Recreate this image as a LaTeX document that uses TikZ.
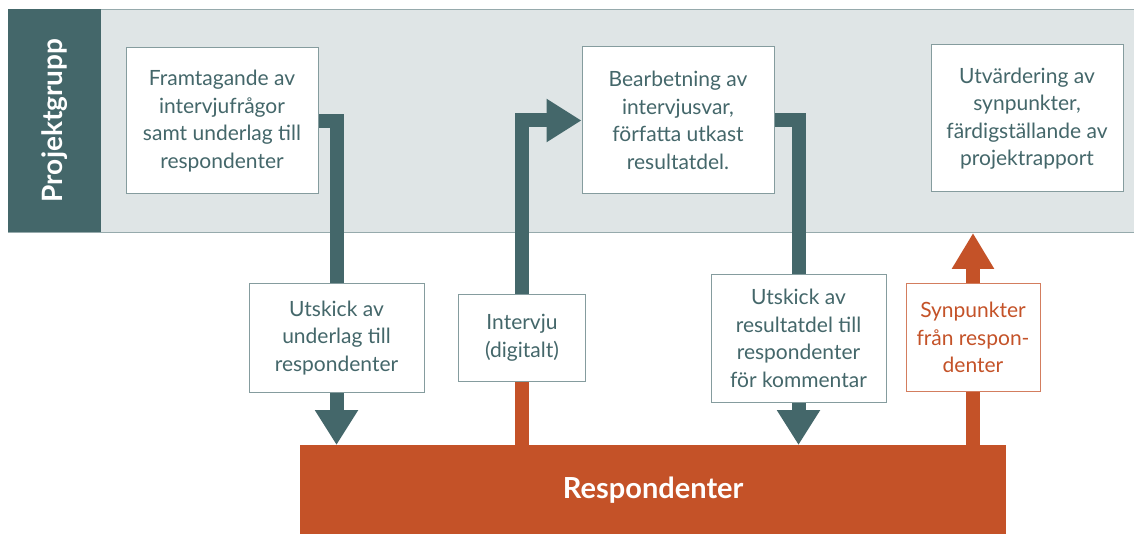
\documentclass[tikz,border=0pt]{standalone}
\usepackage{fontspec}
\setmainfont{Lato}
\usetikzlibrary{arrows.meta, positioning}

\definecolor{pgteal}{RGB}{68,103,106}
\definecolor{resporange}{RGB}{196,82,40}
\definecolor{bandgray}{RGB}{223,229,230}
\definecolor{bandline}{RGB}{150,170,172}
\definecolor{boxline}{RGB}{133,156,158}

\pgfdeclarelayer{back}
\pgfdeclarelayer{mid}
\pgfsetlayers{back,mid,main}

\tikzset{
  stepbox/.style={draw=boxline, line width=1pt, fill=white, align=center, text=pgteal,
    font=\fontsize{21}{27.5}\selectfont, inner sep=0pt},
  tealarrow/.style={draw=pgteal, line width=14pt, line join=miter, -{Triangle[length=35pt,width=41pt]}},
  orangeline/.style={draw=resporange, line width=14pt},
  orangearrow/.style={orangeline, -{Triangle[length=36pt,width=40pt]}},
}

\begin{document}
\begin{tikzpicture}[x=1pt, y=-1pt]
  \useasboundingbox (0,0) rectangle (1134,534);

  \begin{pgfonlayer}{back}
    \node[fill=bandgray, draw=bandline, line width=1pt, inner sep=0pt, minimum width=1132pt,
      minimum height=223pt, anchor=north west] (band) at (8,9) {};
    \node[fill=pgteal, rotate=90, inner sep=0pt, minimum width=223pt, minimum height=93pt,
      text=white, font=\bfseries\fontsize{28}{28}\selectfont] (grp) at (54.5,120.5) {Projektgrupp};
  \end{pgfonlayer}

  \node[stepbox, minimum width=192pt, minimum height=146pt] (frag) at (222,121)
    {Framtagande av\\intervjufrågor\\samt underlag till\\respondenter};
  \node[stepbox, minimum width=192pt, minimum height=147pt] (bearb) at (678,120.5)
    {Bearbetning av\\intervjusvar,\\författa utkast\\resultatdel.};
  \node[stepbox, minimum width=192pt, minimum height=147pt] (utv) at (1027,118.5)
    {Utvärdering av\\synpunkter,\\färdigställande av\\projektrapport};

  \node[stepbox, minimum width=175pt, minimum height=108pt] (utsk1) at (336.5,338)
    {Utskick av\\underlag till\\respondenter};
  \node[stepbox, minimum width=127pt, minimum height=86pt] (interv) at (522,338)
    {Intervju\\(digitalt)};
  \node[stepbox, minimum width=175pt, minimum height=127pt] (utsk2) at (798.5,338.5)
    {Utskick av\\resultatdel till\\respondenter\\för kommentar};
  \node[stepbox, draw=resporange!75, text=resporange, minimum width=134pt, minimum height=107pt] (synp) at (973,337.5)
    {Synpunkter\\från respon-\\denter};

  \node[fill=resporange, inner sep=0pt, minimum width=706pt, minimum height=89pt, anchor=north west,
    text=white, font=\bfseries\fontsize{29}{29}\selectfont] (resp) at (300,445) {Respondenter};

  \begin{pgfonlayer}{mid}
    \draw[tealarrow] (frag.east) -| (utsk1.center) -- (utsk1.center |- resp.north);
    \draw[orangeline] (interv.center |- resp.north) -- (interv.center);
    \draw[tealarrow] (interv.center) |- (bearb.west);
    \draw[tealarrow] (bearb.east) -| (utsk2.center) -- (utsk2.center |- resp.north);
    \draw[orangearrow] (synp.center |- resp.north) -- (synp.center |- band.south);
  \end{pgfonlayer}
\end{tikzpicture}
\end{document}
